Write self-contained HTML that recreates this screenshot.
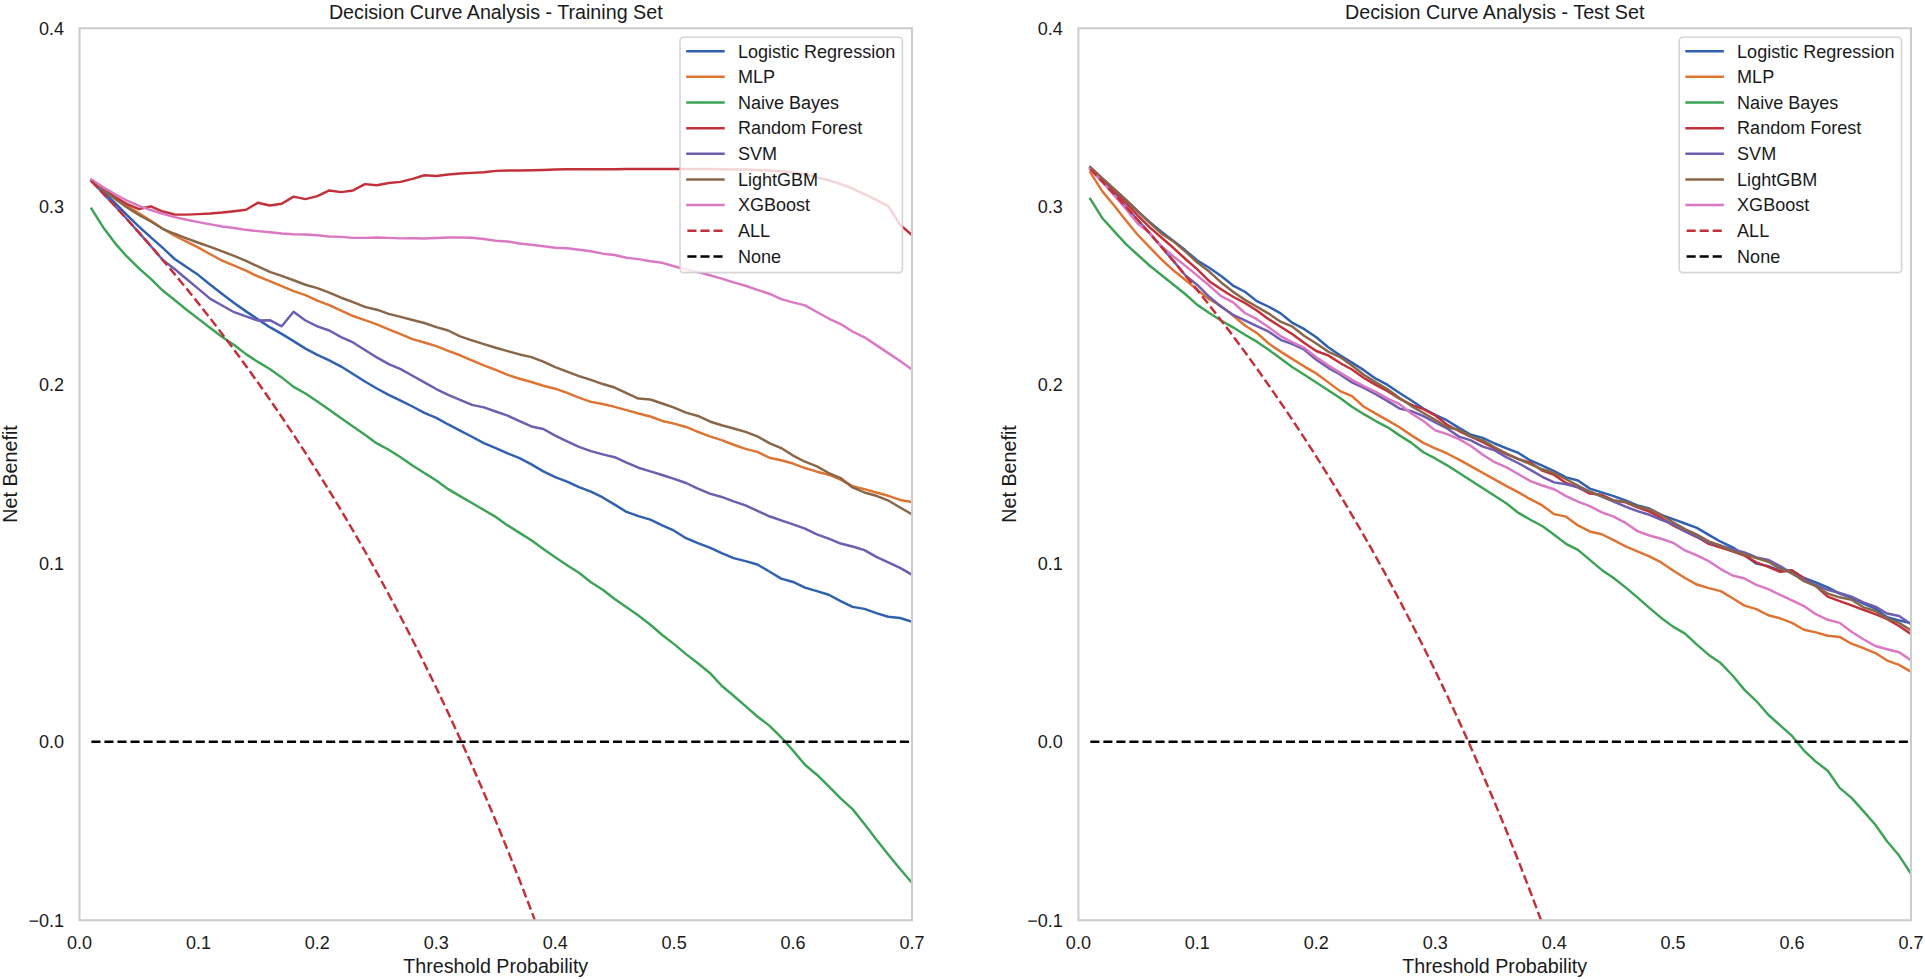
<!DOCTYPE html>
<html lang="en"><head><meta charset="utf-8"><title>Decision Curve Analysis</title>
<style>html,body{margin:0;padding:0;background:#fff;}body{width:1925px;height:980px;overflow:hidden;}svg{display:block;}</style>
</head><body>
<svg width="1925" height="980" viewBox="0 0 1925 980">
<rect width="1925" height="980" fill="#ffffff"/>
<clipPath id="cl"><rect x="79.5" y="28.25" width="832.5" height="892.0"/></clipPath>
<g clip-path="url(#cl)" fill="none" stroke-width="2.46" stroke-linejoin="round" stroke-linecap="butt">
<path d="M91.39 180.81 L103.29 191.8 L115.18 203.2 L127.07 215.2 L138.96 226.52 L150.86 237.36 L162.75 247.84 L174.64 258.98 L186.54 266.96 L198.43 275.11 L210.32 284.76 L222.21 293.91 L234.11 303.06 L246 311.37 L257.89 319.36 L269.79 327.17 L281.68 333.83 L293.57 341.13 L305.46 348.62 L317.36 354.94 L329.25 360.43 L341.14 366.58 L353.04 374.06 L364.93 381.55 L376.82 388.53 L388.71 394.85 L400.61 400.68 L412.5 406.5 L424.39 412.82 L436.29 417.81 L448.18 424.46 L460.07 430.61 L471.96 436.77 L483.86 443.09 L495.75 448.08 L507.64 453.4 L519.54 458.06 L531.43 464.38 L543.32 471.36 L555.21 477.18 L567.11 481.67 L579 487.16 L590.89 491.64 L602.79 497.46 L614.68 504.62 L626.57 511.93 L638.46 516.09 L650.36 519.58 L662.25 525.41 L674.14 530.73 L686.04 538.21 L697.93 543.2 L709.82 547.69 L721.71 553.18 L733.61 558.17 L745.5 561.16 L757.39 564.49 L769.29 571.48 L781.18 578.63 L793.07 581.95 L804.96 587.61 L816.86 591.1 L828.75 594.76 L840.64 601.08 L852.54 606.9 L864.43 608.9 L876.32 613.06 L888.21 616.72 L900.11 618.05 L912 621.7" stroke="#3060b0" stroke-linecap="square"/>
<path d="M91.39 180.41 L103.29 189.8 L115.18 198.3 L127.07 206 L138.96 213.3 L150.86 220.8 L162.75 228.8 L174.64 235.6 L186.54 241.68 L198.43 247.67 L210.32 254.25 L222.21 260.74 L234.11 265.73 L246 270.62 L257.89 276.44 L269.79 281.1 L281.68 286.09 L293.57 291.08 L305.46 295.07 L317.36 300.56 L329.25 305.05 L341.14 310.54 L353.04 316.03 L364.93 320.19 L376.82 324.35 L388.71 329.33 L400.61 334.15 L412.5 339.14 L424.39 342.46 L436.29 346.12 L448.18 350.78 L460.07 355.27 L471.96 360.26 L483.86 365.42 L495.75 369.91 L507.64 374.9 L519.54 378.72 L531.43 382.05 L543.32 385.71 L555.21 388.7 L567.11 392.86 L579 397.68 L590.89 401.84 L602.79 404 L614.68 406.83 L626.57 410.16 L638.46 413.48 L650.36 416.48 L662.25 420.97 L674.14 423.63 L686.04 426.95 L697.93 431.78 L709.82 436.43 L721.71 440.09 L733.61 444.75 L745.5 448.91 L757.39 451.9 L769.29 457.72 L781.18 460.22 L793.07 463.54 L804.96 468.04 L816.86 471.69 L828.75 474.69 L840.64 479.68 L852.54 486.15 L864.43 489.15 L876.32 492.47 L888.21 495.8 L900.11 499.96 L912 501.95" stroke="#de7432" stroke-linecap="square"/>
<path d="M91.39 208.69 L103.29 227.44 L115.18 243.34 L127.07 256.74 L138.96 268.31 L150.86 278.94 L162.75 290.58 L174.64 300.06 L186.54 309.71 L198.43 318.86 L210.32 328 L222.21 336.98 L234.11 344.96 L246 354.11 L257.89 361.92 L269.79 369.07 L281.68 377.39 L293.57 386.87 L305.46 393.52 L317.36 401.51 L329.25 409.82 L341.14 418.14 L353.04 426.46 L364.93 434.77 L376.82 443.42 L388.71 449.74 L400.61 457.22 L412.5 465.54 L424.39 473.02 L436.29 480.51 L448.18 489.15 L460.07 496.13 L471.96 502.95 L483.86 509.94 L495.75 516.92 L507.64 525.41 L519.54 532.89 L531.43 540.21 L543.32 549.02 L555.21 557.34 L567.11 565.16 L579 572.81 L590.89 582.29 L602.79 589.77 L614.68 598.92 L626.57 607.23 L638.46 615.55 L650.36 624.7 L662.25 635 L674.14 644.15 L686.04 654.13 L697.93 663.27 L709.82 672.92 L721.71 685.73 L733.61 695.71 L745.5 706.19 L757.39 716.5 L769.29 725.64 L781.18 737.29 L793.07 750.59 L804.96 764.73 L816.86 774.71 L828.75 786.35 L840.64 798.32 L852.54 809.13 L864.43 824.1 L876.32 839.56 L888.21 854.53 L900.11 869 L912 882.81" stroke="#3da356" stroke-linecap="square"/>
<path d="M91.39 180.41 L103.29 188.9 L115.18 197.04 L127.07 204.05 L138.96 209.04 L150.86 206.38 L162.75 211.54 L174.64 214.54 L186.54 214.64 L198.43 214.14 L210.32 213.54 L222.21 212.54 L234.11 211.19 L246 209.69 L257.89 202.72 L269.79 205.46 L281.68 203.76 L293.57 196.61 L305.46 199.11 L317.36 196.11 L329.25 190.46 L341.14 192.12 L353.04 190.46 L364.93 184.14 L376.82 185.3 L388.71 182.97 L400.61 181.87 L412.5 178.88 L424.39 175.22 L436.29 176.05 L448.18 174.55 L460.07 173.56 L471.96 172.89 L483.86 172.22 L495.75 170.89 L507.64 170.4 L519.54 170.56 L531.43 170.23 L543.32 169.9 L555.21 169.56 L567.11 169.23 L579 169.23 L590.89 169.23 L602.79 169.23 L614.68 169.23 L626.57 169.06 L638.46 168.9 L650.36 168.9 L662.25 168.9 L674.14 168.9 L686.04 168.9 L697.93 168.9 L709.82 169.06 L721.71 169.23 L733.61 169.4 L745.5 169.56 L757.39 169.9 L769.29 170.4 L781.18 171.23 L793.07 172.39 L804.96 174.55 L816.86 177.38 L828.75 180.21 L840.64 184.03 L852.54 188.52 L864.43 194.01 L876.32 199.83 L888.21 206.15 L900.11 224.78 L912 235.09" stroke="#c2303a" stroke-linecap="square"/>
<path d="M91.39 180.81 L103.29 193.54 L115.18 206.28 L127.07 219.29 L138.96 232.56 L150.86 246.13 L162.75 259.98 L174.64 268.96 L186.54 278.94 L198.43 288.92 L210.32 298.9 L222.21 305.55 L234.11 312.2 L246 316.36 L257.89 320.52 L269.79 320.19 L281.68 326.34 L293.57 311.7 L305.46 320.52 L317.36 326.34 L329.25 330.5 L341.14 337.14 L353.04 342.46 L364.93 349.95 L376.82 357.43 L388.71 364.09 L400.61 369.07 L412.5 375.73 L424.39 382.38 L436.29 389.03 L448.18 394.85 L460.07 399.84 L471.96 404.83 L483.86 407.33 L495.75 411.49 L507.64 415.64 L519.54 421.13 L531.43 426.46 L543.32 428.95 L555.21 435.6 L567.11 441.42 L579 446.91 L590.89 451.07 L602.79 454.4 L614.68 457.22 L626.57 462.71 L638.46 467.7 L650.36 471.36 L662.25 475.02 L674.14 478.85 L686.04 483 L697.93 488.65 L709.82 493.64 L721.71 496.96 L733.61 501.29 L745.5 505.45 L757.39 510.77 L769.29 516.26 L781.18 520.42 L793.07 524.41 L804.96 528.57 L816.86 534.39 L828.75 538.54 L840.64 543.53 L852.54 546.53 L864.43 550.19 L876.32 556.84 L888.21 562.33 L900.11 567.82 L912 574.8" stroke="#6e5db0" stroke-linecap="square"/>
<path d="M91.39 180.41 L103.29 190 L115.18 199 L127.07 207.5 L138.96 215 L150.86 221.5 L162.75 228.77 L174.64 233.77 L186.54 238.35 L198.43 242.74 L210.32 246.92 L222.21 251.41 L234.11 255.83 L246 260.82 L257.89 266.48 L269.79 271.79 L281.68 275.95 L293.57 280.27 L305.46 284.76 L317.36 288.09 L329.25 292.58 L341.14 297.73 L353.04 302.22 L364.93 306.88 L376.82 309.71 L388.71 313.87 L400.61 316.86 L412.5 320.02 L424.39 323.01 L436.29 327.17 L448.18 330.5 L460.07 336.31 L471.96 340.3 L483.86 344.13 L495.75 347.79 L507.64 351.11 L519.54 354.44 L531.43 357.1 L543.32 361.59 L555.21 367.08 L567.11 371.57 L579 376.06 L590.89 379.89 L602.79 384.04 L614.68 387.54 L626.57 393.19 L638.46 398.51 L650.36 399.51 L662.25 403.5 L674.14 407.66 L686.04 412.65 L697.93 415.98 L709.82 421.47 L721.71 425.29 L733.61 428.45 L745.5 431.94 L757.39 436.43 L769.29 443.09 L781.18 448.08 L793.07 455.56 L804.96 461.72 L816.86 466.37 L828.75 473.02 L840.64 478.01 L852.54 487.48 L864.43 492.47 L876.32 495.8 L888.21 500.46 L900.11 507.44 L912 514.43" stroke="#8a6648" stroke-linecap="square"/>
<path d="M91.39 179.42 L103.29 187.22 L115.18 194.29 L127.07 200.72 L138.96 205.88 L150.86 210.04 L162.75 213.79 L174.64 217.13 L186.54 219.68 L198.43 222.1 L210.32 224.36 L222.21 226.52 L234.11 227.94 L246 229.84 L257.89 231.1 L269.79 232.34 L281.68 233.53 L293.57 234.2 L305.46 234.53 L317.36 235.2 L329.25 236.53 L341.14 236.86 L353.04 237.86 L364.93 237.86 L376.82 237.53 L388.71 237.86 L400.61 238.36 L412.5 238.19 L424.39 238.52 L436.29 238.02 L448.18 237.53 L460.07 237.53 L471.96 237.69 L483.86 239.02 L495.75 240.69 L507.64 241.52 L519.54 243.51 L531.43 244.68 L543.32 246.34 L555.21 247.84 L567.11 248.17 L579 249.83 L590.89 251.33 L602.79 253.66 L614.68 254.99 L626.57 257.82 L638.46 259.15 L650.36 261.31 L662.25 262.81 L674.14 266.3 L686.04 269.46 L697.93 271.95 L709.82 275.28 L721.71 278.61 L733.61 282.43 L745.5 285.76 L757.39 289.92 L769.29 293.74 L781.18 299.06 L793.07 302.39 L804.96 305.38 L816.86 312.04 L828.75 318.52 L840.64 324.01 L852.54 331.5 L864.43 337.32 L876.32 345.14 L888.21 353.12 L900.11 361.1 L912 369.42" stroke="#db78c4" stroke-linecap="square"/>
<path d="M91.39 181.06 L103.29 193.54 L115.18 206.28 L127.07 219.29 L138.96 232.56 L150.86 246.13 L162.75 259.98 L174.64 274.13 L186.54 288.6 L198.43 303.38 L210.32 318.5 L222.21 333.96 L234.11 349.78 L246 365.97 L257.89 382.53 L269.79 399.49 L281.68 416.86 L293.57 434.65 L305.46 452.89 L317.36 471.57 L329.25 490.74 L341.14 510.39 L353.04 530.55 L364.93 551.24 L376.82 572.49 L388.71 594.31 L400.61 616.73 L412.5 639.77 L424.39 663.45 L436.29 687.82 L448.18 712.89 L460.07 738.7 L471.96 765.28 L483.86 792.67 L495.75 820.89 L507.64 850.01 L519.54 880.04 L531.43 911.04 L543.32 943.06 L555.21 976.15 L567.11 1010.36 L579 1045.75 L590.89 1082.37 L602.79 1120.31 L614.68 1159.63 L626.57 1200.4 L638.46 1242.72 L650.36 1286.66 L662.25 1332.32 L674.14 1379.81 L686.04 1429.24 L697.93 1480.72 L709.82 1534.4 L721.71 1590.41 L733.61 1648.91 L745.5 1710.08 L757.39 1774.08 L769.29 1841.13 L781.18 1911.46 L793.07 1985.3 L804.96 2062.92 L816.86 2144.64 L828.75 2230.77 L840.64 2321.68 L852.54 2417.79 L864.43 2519.55 L876.32 2627.48 L888.21 2742.16 L900.11 2864.23 L912 2994.45" stroke="#c2303a" stroke-dasharray="9.1 3.94"/>
<path d="M91.39 741.85 L912 741.85" stroke="#000" stroke-dasharray="9.1 3.94"/>
</g>
<rect x="79.5" y="28.25" width="832.5" height="892.0" fill="none" stroke="#cccccc" stroke-width="2.05"/>
<g font-family='"Liberation Sans", sans-serif' font-size="18.05" fill="#1a1a1a">
<text x="79.5" y="949" text-anchor="middle">0.0</text>
<text x="198.43" y="949" text-anchor="middle">0.1</text>
<text x="317.36" y="949" text-anchor="middle">0.2</text>
<text x="436.29" y="949" text-anchor="middle">0.3</text>
<text x="555.21" y="949" text-anchor="middle">0.4</text>
<text x="674.14" y="949" text-anchor="middle">0.5</text>
<text x="793.07" y="949" text-anchor="middle">0.6</text>
<text x="912" y="949" text-anchor="middle">0.7</text>
<text x="64" y="926.65" text-anchor="end">−0.1</text>
<text x="64" y="748.25" text-anchor="end">0.0</text>
<text x="64" y="569.85" text-anchor="end">0.1</text>
<text x="64" y="391.45" text-anchor="end">0.2</text>
<text x="64" y="213.05" text-anchor="end">0.3</text>
<text x="64" y="34.65" text-anchor="end">0.4</text>
</g>
<g font-family='"Liberation Sans", sans-serif' font-size="19.7" fill="#1a1a1a" text-anchor="middle">
<text x="495.75" y="18.6">Decision Curve Analysis - Training Set</text>
<text x="495.75" y="973">Threshold Probability</text>
<text transform="translate(17.1 473.95) rotate(-90)">Net Benefit</text>
</g>
<rect x="680" y="37.3" width="222.4" height="235.3" rx="3.6" ry="3.6" fill="#ffffff" fill-opacity="0.8" stroke="#cccccc" stroke-opacity="0.8" stroke-width="1.64"/>
<g font-family='"Liberation Sans", sans-serif' font-size="18.05" fill="#1a1a1a">
<line x1="687.4" x2="723.5" y1="51.2" y2="51.2" stroke="#3060b0" stroke-width="2.46" stroke-linecap="square"/>
<text x="737.9" y="57.5">Logistic Regression</text>
<line x1="687.4" x2="723.5" y1="76.85" y2="76.85" stroke="#de7432" stroke-width="2.46" stroke-linecap="square"/>
<text x="737.9" y="83.15">MLP</text>
<line x1="687.4" x2="723.5" y1="102.5" y2="102.5" stroke="#3da356" stroke-width="2.46" stroke-linecap="square"/>
<text x="737.9" y="108.8">Naive Bayes</text>
<line x1="687.4" x2="723.5" y1="128.15" y2="128.15" stroke="#c2303a" stroke-width="2.46" stroke-linecap="square"/>
<text x="737.9" y="134.45">Random Forest</text>
<line x1="687.4" x2="723.5" y1="153.8" y2="153.8" stroke="#6e5db0" stroke-width="2.46" stroke-linecap="square"/>
<text x="737.9" y="160.1">SVM</text>
<line x1="687.4" x2="723.5" y1="179.45" y2="179.45" stroke="#8a6648" stroke-width="2.46" stroke-linecap="square"/>
<text x="737.9" y="185.75">LightGBM</text>
<line x1="687.4" x2="723.5" y1="205.1" y2="205.1" stroke="#db78c4" stroke-width="2.46" stroke-linecap="square"/>
<text x="737.9" y="211.4">XGBoost</text>
<line x1="687.4" x2="723.5" y1="230.75" y2="230.75" stroke="#c2303a" stroke-width="2.46" stroke-dasharray="9.1 3.94" stroke-linecap="butt"/>
<text x="737.9" y="237.05">ALL</text>
<line x1="687.4" x2="723.5" y1="256.4" y2="256.4" stroke="#000000" stroke-width="2.46" stroke-dasharray="9.1 3.94" stroke-linecap="butt"/>
<text x="737.9" y="262.7">None</text>
</g>
<clipPath id="cr"><rect x="1078.4" y="28.25" width="832.5999999999999" height="892.0"/></clipPath>
<g clip-path="url(#cr)" fill="none" stroke-width="2.46" stroke-linejoin="round" stroke-linecap="butt">
<path d="M1090.29 167.47 L1102.19 178.31 L1114.08 189.16 L1125.98 200.01 L1137.87 211.35 L1149.77 222.08 L1161.66 231.96 L1173.55 240.9 L1185.45 250.33 L1197.34 260.54 L1209.24 267.7 L1221.13 275.96 L1233.03 285.55 L1244.92 291.78 L1256.81 301.13 L1268.71 306.74 L1280.6 313.35 L1292.5 322.95 L1304.39 329.18 L1316.29 337.29 L1328.18 347.26 L1340.07 355.17 L1351.97 362.65 L1363.86 370.13 L1375.76 378.66 L1387.65 384.9 L1399.55 393 L1411.44 400.48 L1423.33 408.58 L1435.23 414.82 L1447.12 420.43 L1459.02 427.91 L1470.91 434.77 L1482.81 437.88 L1494.7 443.49 L1506.59 448.29 L1518.49 452.96 L1530.38 460.44 L1542.28 465.74 L1554.17 471.16 L1566.07 477.39 L1577.96 480.51 L1589.85 488.61 L1601.75 492.35 L1613.64 496.09 L1625.54 500.45 L1637.43 505.44 L1649.33 508.56 L1661.22 514.79 L1673.11 519.16 L1685.01 523.52 L1696.9 527.88 L1708.8 534.86 L1720.69 541.72 L1732.59 547.33 L1744.48 554.94 L1756.37 563.66 L1768.27 566.16 L1780.16 570.52 L1792.06 570.52 L1803.95 578 L1815.85 582.36 L1827.74 587.35 L1839.63 593.58 L1851.53 597.95 L1863.42 603.56 L1875.32 608.55 L1887.21 617.27 L1899.11 620.39 L1911 623.26" stroke="#3060b0" stroke-linecap="square"/>
<path d="M1090.29 172.45 L1102.19 191.16 L1114.08 205.49 L1125.98 220.45 L1137.87 234.98 L1149.77 247.38 L1161.66 259.66 L1173.55 270.52 L1185.45 279.94 L1197.34 289.91 L1209.24 299.26 L1221.13 306.12 L1233.03 315.47 L1244.92 325.44 L1256.81 332.92 L1268.71 343.52 L1280.6 351.62 L1292.5 359.1 L1304.39 366.58 L1316.29 373.44 L1340.07 391.13 L1351.97 396.12 L1363.86 406.71 L1375.76 413.57 L1387.65 420.43 L1399.55 427.29 L1411.44 435.39 L1423.33 442.87 L1435.23 448.48 L1447.12 453.47 L1459.02 459.7 L1506.59 486.12 L1518.49 492.35 L1530.38 499.21 L1542.28 505.44 L1554.17 514.17 L1566.07 516.66 L1577.96 525.39 L1589.85 531.44 L1601.75 534.24 L1613.64 540.16 L1625.54 546.4 L1637.43 551.38 L1649.33 556.37 L1661.22 562.42 L1673.11 570.52 L1685.01 578 L1696.9 584.55 L1708.8 588.16 L1720.69 591.09 L1732.59 598.26 L1744.48 605.62 L1756.37 609.17 L1768.27 615.28 L1780.16 618.39 L1792.06 622.88 L1803.95 629.74 L1815.85 632.36 L1827.74 635.79 L1839.63 636.91 L1851.53 643.71 L1863.42 648.14 L1875.32 653.06 L1887.21 660.55 L1899.11 664.91 L1911 671.77" stroke="#de7432" stroke-linecap="square"/>
<path d="M1090.29 198.89 L1102.19 217.96 L1114.08 231.05 L1125.98 244.14 L1137.87 255 L1149.77 265.73 L1161.66 275.32 L1185.45 294.27 L1197.34 304.87 L1209.24 312.97 L1221.13 320.45 L1233.03 327.31 L1244.92 334.79 L1256.81 341.65 L1268.71 349.75 L1280.6 358.48 L1292.5 367.21 L1304.39 374.69 L1340.07 397.99 L1351.97 406.71 L1363.86 414.19 L1375.76 421.05 L1387.65 427.29 L1399.55 435.39 L1411.44 442.87 L1423.33 452.22 L1435.23 458.45 L1447.12 465.31 L1506.59 503.57 L1518.49 512.92 L1530.38 519.78 L1542.28 526.01 L1554.17 534.74 L1566.07 543.9 L1577.96 549.82 L1589.85 559.92 L1601.75 569.9 L1613.64 578 L1625.54 587.35 L1637.43 597.32 L1649.33 607.92 L1661.22 617.9 L1673.11 626.62 L1685.01 633.57 L1696.9 644.58 L1708.8 654.94 L1720.69 663.04 L1732.59 675.51 L1744.48 689.84 L1756.37 701.06 L1768.27 714.78 L1780.16 725.38 L1792.06 735.9 L1803.95 750.56 L1815.85 761.61 L1827.74 770.76 L1839.63 787.89 L1851.53 797.87 L1863.42 811.17 L1875.32 824.81 L1887.21 841.44 L1899.11 855.58 L1911 873.88" stroke="#3da356" stroke-linecap="square"/>
<path d="M1090.29 168.46 L1102.19 179.31 L1114.08 191.16 L1125.98 203 L1137.87 215.68 L1149.77 227.39 L1161.66 237.78 L1173.55 248.03 L1185.45 259.02 L1197.34 269.43 L1209.24 281.18 L1221.13 289.29 L1233.03 296.77 L1244.92 303 L1256.81 310.48 L1268.71 319.21 L1280.6 326.69 L1292.5 334.17 L1304.39 342.9 L1316.29 351 L1328.18 355.36 L1340.07 362.96 L1351.97 369.51 L1363.86 378.04 L1375.76 384.9 L1387.65 391.13 L1399.55 398.61 L1411.44 404.84 L1423.33 409.21 L1435.23 415.44 L1447.12 424.79 L1459.02 431.03 L1470.91 436.64 L1482.81 442.25 L1494.7 448.48 L1506.59 454.21 L1518.49 459.19 L1530.38 462.62 L1542.28 470.53 L1554.17 474.9 L1566.07 483 L1577.96 487.36 L1589.85 493.6 L1601.75 494.84 L1613.64 500.45 L1625.54 502.32 L1637.43 507.31 L1649.33 511.68 L1661.22 517.91 L1673.11 525.39 L1685.01 531.44 L1696.9 537.05 L1708.8 543.9 L1720.69 547.64 L1732.59 551.38 L1744.48 555.56 L1756.37 562.42 L1768.27 566.78 L1780.16 571.77 L1792.06 570.52 L1803.95 578.62 L1815.85 586.1 L1827.74 596.7 L1839.63 601.06 L1851.53 605.43 L1863.42 609.79 L1875.32 614.16 L1887.21 619.14 L1899.11 626 L1911 634.1" stroke="#c2303a" stroke-linecap="square"/>
<path d="M1090.29 168.99 L1102.19 181.35 L1114.08 193.96 L1125.98 206.84 L1137.87 219.98 L1149.77 233.41 L1161.66 247.13 L1173.55 261.14 L1185.45 275.46 L1197.34 284.92 L1209.24 296.77 L1221.13 306.74 L1233.03 314.84 L1244.92 320.45 L1256.81 326.06 L1268.71 331.68 L1280.6 339.78 L1292.5 344.14 L1304.39 349.75 L1316.29 359.73 L1328.18 367.83 L1340.07 374.49 L1351.97 382.4 L1363.86 388.01 L1375.76 394.25 L1387.65 401.1 L1399.55 408.58 L1411.44 411.08 L1423.33 416.06 L1435.23 422.3 L1447.12 428.53 L1459.02 436.64 L1470.91 440.38 L1482.81 446.61 L1494.7 450.35 L1506.59 457.32 L1518.49 463.25 L1530.38 469.91 L1542.28 476.77 L1554.17 482.38 L1566.07 484.25 L1577.96 487.36 L1589.85 491.73 L1601.75 496.71 L1613.64 501.7 L1625.54 506.69 L1637.43 511.05 L1649.33 514.79 L1661.22 519.78 L1673.11 524.14 L1685.01 531.12 L1696.9 536.73 L1708.8 542.34 L1720.69 545.77 L1732.59 549.2 L1744.48 552.44 L1756.37 557.43 L1768.27 559.92 L1780.16 566.16 L1792.06 573.64 L1803.95 579.87 L1815.85 584.86 L1827.74 589.84 L1839.63 592.96 L1851.53 596.7 L1863.42 602.31 L1875.32 606.68 L1887.21 613.53 L1899.11 616.03 L1911 624.13" stroke="#6e5db0" stroke-linecap="square"/>
<path d="M1090.29 167.22 L1102.19 178.06 L1114.08 188.91 L1125.98 199.88 L1137.87 211.35 L1149.77 222.95 L1161.66 233.6 L1173.55 241.48 L1185.45 251.45 L1197.34 262.49 L1209.24 271.59 L1221.13 282.43 L1233.03 291.78 L1244.92 299.88 L1256.81 306.74 L1268.71 313.6 L1280.6 321.7 L1292.5 326.69 L1304.39 336.04 L1316.29 343.52 L1328.18 351.62 L1340.07 357.04 L1351.97 365.45 L1363.86 374.81 L1375.76 382.4 L1387.65 389.26 L1399.55 397.99 L1411.44 406.09 L1423.33 412.95 L1435.23 419.81 L1447.12 427.29 L1459.02 429.78 L1470.91 436.64 L1482.81 440.38 L1494.7 447.23 L1506.59 453.58 L1518.49 459.19 L1530.38 464.18 L1542.28 469.29 L1554.17 473.03 L1566.07 479.26 L1577.96 485.49 L1589.85 491.73 L1601.75 496.09 L1613.64 500.45 L1625.54 501.7 L1637.43 506.69 L1649.33 509.18 L1661.22 514.79 L1673.11 522.27 L1685.01 529.13 L1696.9 534.55 L1708.8 541.41 L1720.69 545.77 L1732.59 551.07 L1744.48 554.31 L1756.37 558.05 L1768.27 561.79 L1780.16 568.65 L1792.06 573.01 L1803.95 581.12 L1815.85 586.1 L1827.74 593.58 L1839.63 597.32 L1851.53 599.82 L1863.42 607.3 L1875.32 611.04 L1887.21 618.52 L1899.11 622.88 L1911 630.36" stroke="#8a6648" stroke-linecap="square"/>
<path d="M1090.29 168.96 L1102.19 181.93 L1114.08 195.15 L1125.98 208.86 L1137.87 223.7 L1149.77 233 L1161.66 246.45 L1173.55 256.46 L1185.45 265.9 L1197.34 275.61 L1209.24 285.55 L1221.13 296.14 L1233.03 302.38 L1244.92 312.97 L1256.81 319.21 L1268.71 327.31 L1280.6 336.04 L1292.5 342.27 L1304.39 347.88 L1316.29 357.23 L1328.18 365.34 L1340.07 372.62 L1351.97 379.91 L1363.86 386.14 L1375.76 391.75 L1387.65 398.61 L1399.55 404.22 L1411.44 413.57 L1423.33 421.05 L1435.23 430.4 L1447.12 434.14 L1459.02 439.13 L1470.91 445.99 L1482.81 454.71 L1494.7 462.19 L1506.59 467.42 L1518.49 474.27 L1530.38 481.13 L1542.28 485.49 L1554.17 489.23 L1566.07 496.09 L1577.96 501.7 L1589.85 506.06 L1601.75 512.3 L1613.64 516.66 L1625.54 522.9 L1637.43 531.12 L1649.33 535.49 L1661.22 538.73 L1673.11 542.8 L1685.01 550.49 L1696.9 555.48 L1708.8 561.17 L1720.69 569.09 L1732.59 575.51 L1744.48 578.5 L1756.37 584.86 L1768.27 589.22 L1780.16 594.83 L1792.06 600.44 L1803.95 606.05 L1815.85 614.16 L1827.74 619.77 L1839.63 622.88 L1851.53 631.74 L1863.42 639.22 L1875.32 645.95 L1887.21 649.19 L1899.11 652.19 L1911 660.3" stroke="#db78c4" stroke-linecap="square"/>
<path d="M1090.29 168.99 L1102.19 181.35 L1114.08 193.96 L1125.98 206.84 L1137.87 219.98 L1149.77 233.41 L1161.66 247.13 L1173.55 261.14 L1185.45 275.46 L1197.34 290.1 L1209.24 305.07 L1221.13 320.38 L1233.03 336.04 L1244.92 352.07 L1256.81 368.47 L1268.71 385.26 L1280.6 402.46 L1292.5 420.08 L1304.39 438.13 L1316.29 456.63 L1328.18 475.6 L1340.07 495.06 L1351.97 515.03 L1363.86 535.52 L1375.76 556.55 L1387.65 578.16 L1399.55 600.35 L1411.44 623.16 L1423.33 646.62 L1435.23 670.74 L1447.12 695.57 L1459.02 721.12 L1470.91 747.44 L1482.81 774.56 L1494.7 802.51 L1506.59 831.33 L1518.49 861.07 L1530.38 891.76 L1542.28 923.47 L1554.17 956.23 L1566.07 990.1 L1577.96 1025.14 L1589.85 1061.41 L1601.75 1098.97 L1613.64 1137.9 L1625.54 1178.27 L1637.43 1220.16 L1649.33 1263.67 L1661.22 1308.88 L1673.11 1355.9 L1685.01 1404.84 L1696.9 1455.82 L1708.8 1508.97 L1720.69 1564.43 L1732.59 1622.35 L1744.48 1682.91 L1756.37 1746.28 L1768.27 1812.67 L1780.16 1882.3 L1792.06 1955.42 L1803.95 2032.28 L1815.85 2113.18 L1827.74 2198.46 L1839.63 2288.48 L1851.53 2383.64 L1863.42 2484.4 L1875.32 2591.26 L1887.21 2704.81 L1899.11 2825.68 L1911 2954.6" stroke="#c2303a" stroke-dasharray="9.1 3.94"/>
<path d="M1090.29 741.85 L1911 741.85" stroke="#000" stroke-dasharray="9.1 3.94"/>
</g>
<rect x="1078.4" y="28.25" width="832.5999999999999" height="892.0" fill="none" stroke="#cccccc" stroke-width="2.05"/>
<g font-family='"Liberation Sans", sans-serif' font-size="18.05" fill="#1a1a1a">
<text x="1078.4" y="949" text-anchor="middle">0.0</text>
<text x="1197.34" y="949" text-anchor="middle">0.1</text>
<text x="1316.29" y="949" text-anchor="middle">0.2</text>
<text x="1435.23" y="949" text-anchor="middle">0.3</text>
<text x="1554.17" y="949" text-anchor="middle">0.4</text>
<text x="1673.11" y="949" text-anchor="middle">0.5</text>
<text x="1792.06" y="949" text-anchor="middle">0.6</text>
<text x="1911" y="949" text-anchor="middle">0.7</text>
<text x="1062.9" y="926.65" text-anchor="end">−0.1</text>
<text x="1062.9" y="748.25" text-anchor="end">0.0</text>
<text x="1062.9" y="569.85" text-anchor="end">0.1</text>
<text x="1062.9" y="391.45" text-anchor="end">0.2</text>
<text x="1062.9" y="213.05" text-anchor="end">0.3</text>
<text x="1062.9" y="34.65" text-anchor="end">0.4</text>
</g>
<g font-family='"Liberation Sans", sans-serif' font-size="19.7" fill="#1a1a1a" text-anchor="middle">
<text x="1494.7" y="18.6">Decision Curve Analysis - Test Set</text>
<text x="1494.7" y="973">Threshold Probability</text>
<text transform="translate(1016 473.95) rotate(-90)">Net Benefit</text>
</g>
<rect x="1679.2" y="37.3" width="222.4" height="235.3" rx="3.6" ry="3.6" fill="#ffffff" fill-opacity="0.8" stroke="#cccccc" stroke-opacity="0.8" stroke-width="1.64"/>
<g font-family='"Liberation Sans", sans-serif' font-size="18.05" fill="#1a1a1a">
<line x1="1686.6" x2="1722.7" y1="51.2" y2="51.2" stroke="#3060b0" stroke-width="2.46" stroke-linecap="square"/>
<text x="1737.1" y="57.5">Logistic Regression</text>
<line x1="1686.6" x2="1722.7" y1="76.85" y2="76.85" stroke="#de7432" stroke-width="2.46" stroke-linecap="square"/>
<text x="1737.1" y="83.15">MLP</text>
<line x1="1686.6" x2="1722.7" y1="102.5" y2="102.5" stroke="#3da356" stroke-width="2.46" stroke-linecap="square"/>
<text x="1737.1" y="108.8">Naive Bayes</text>
<line x1="1686.6" x2="1722.7" y1="128.15" y2="128.15" stroke="#c2303a" stroke-width="2.46" stroke-linecap="square"/>
<text x="1737.1" y="134.45">Random Forest</text>
<line x1="1686.6" x2="1722.7" y1="153.8" y2="153.8" stroke="#6e5db0" stroke-width="2.46" stroke-linecap="square"/>
<text x="1737.1" y="160.1">SVM</text>
<line x1="1686.6" x2="1722.7" y1="179.45" y2="179.45" stroke="#8a6648" stroke-width="2.46" stroke-linecap="square"/>
<text x="1737.1" y="185.75">LightGBM</text>
<line x1="1686.6" x2="1722.7" y1="205.1" y2="205.1" stroke="#db78c4" stroke-width="2.46" stroke-linecap="square"/>
<text x="1737.1" y="211.4">XGBoost</text>
<line x1="1686.6" x2="1722.7" y1="230.75" y2="230.75" stroke="#c2303a" stroke-width="2.46" stroke-dasharray="9.1 3.94" stroke-linecap="butt"/>
<text x="1737.1" y="237.05">ALL</text>
<line x1="1686.6" x2="1722.7" y1="256.4" y2="256.4" stroke="#000000" stroke-width="2.46" stroke-dasharray="9.1 3.94" stroke-linecap="butt"/>
<text x="1737.1" y="262.7">None</text>
</g>
</svg>
</body></html>
